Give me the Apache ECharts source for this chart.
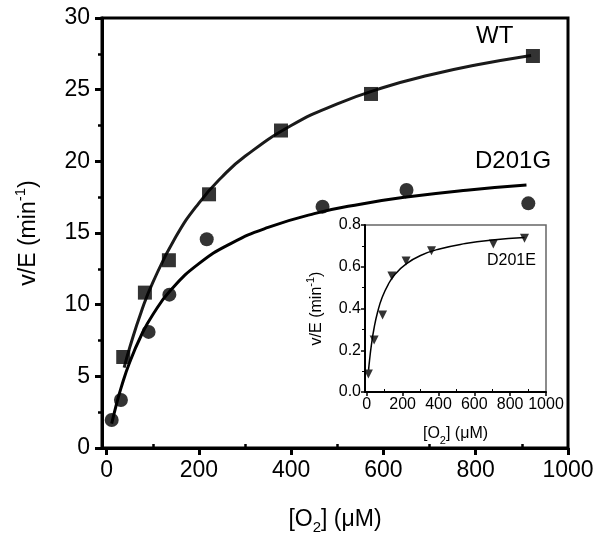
<!DOCTYPE html>
<html>
<head>
<meta charset="utf-8">
<script src="https://cdn.jsdelivr.net/npm/echarts@6/dist/echarts.min.js"></script>
<style>
html,body{margin:0;padding:0;background:#fff;}
#chart{width:604px;height:546px;}
</style>
</head>
<body>
<div id="chart"></div>
<script>
// ---- Data ----
const wtX = [36, 83, 135, 222, 378, 573, 924];
const wtY = [6.35, 10.84, 13.1, 17.7, 22.15, 24.7, 27.35];
const d201gX = [11, 31, 91, 136, 217, 468, 650, 914];
const d201gY = [1.95, 3.35, 8.1, 10.7, 14.56, 16.84, 18.0, 17.07];
// fitted curves, points
const wtFitX = [38, 50, 75, 100, 150, 200, 250, 300, 400, 500, 600, 700, 800, 920];
const wtFitY = [5.61, 7.0, 9.49, 11.54, 14.73, 17.09, 18.91, 20.35, 22.5, 24.01, 25.15, 26.02, 26.72, 27.39];
const d201gFitX = [11, 20, 31, 50, 75, 100, 140, 200, 270, 350, 450, 550, 650, 780, 910];
const d201gFitY = [1.70, 2.89, 4.16, 5.98, 7.85, 9.30, 11.05, 12.86, 14.28, 15.39, 16.35, 17.01, 17.51, 17.99, 18.35];
// inset D201E
const d201eX = [9, 41, 88, 140, 219, 361, 706, 880];
const d201eY = [0.086, 0.249, 0.369, 0.556, 0.628, 0.677, 0.709, 0.736];
const d201eFitX = [10, 15, 25, 40, 60, 85, 120, 160, 220, 300, 400, 550, 700, 880];
const d201eFitY = [0.106, 0.149, 0.221, 0.303, 0.382, 0.451, 0.516, 0.566, 0.614, 0.654, 0.684, 0.711, 0.728, 0.740];
// ticks
const xMajor = [0, 200, 400, 600, 800, 1000];
const xMinor = [100, 300, 500, 700, 900];

const pairs = (xs, ys) => xs.map((x, i) => [x, ys[i]]);
const FONT = 'Liberation Sans, Arial, sans-serif';

const titleRich = (size, subSize) => ({
  n: {fontSize: size, lineHeight: size + 8, fontFamily: FONT, color: '#000'},
  sub: {fontSize: subSize, lineHeight: subSize, verticalAlign: 'bottom', fontFamily: FONT, color: '#000'},
  sup: {fontSize: subSize, lineHeight: subSize, verticalAlign: 'top', fontFamily: FONT, color: '#000'}
});

const chart = echarts.init(document.getElementById('chart'), null, {renderer: 'canvas'});

const option = {
  backgroundColor: '#fff',
  animation: false,
  grid: [
    {left: 102, top: 18, right: 36, bottom: 98, show: true, borderColor: '#000', borderWidth: 3, backgroundColor: 'transparent'},
    {left: 365, top: 225, right: 58, bottom: 154, show: true, borderColor: '#666', borderWidth: 1.5, backgroundColor: '#fff', z: 5}
  ],
  xAxis: [
    {
      gridIndex: 0, type: 'value', min: -10, max: 1000,
      axisLine: {onZero: false, lineStyle: {color: '#000', width: 3}},
      axisTick: {inside: false, customValues: xMajor, length: 7, lineStyle: {width: 3, color: '#000'}},
      axisLabel: {customValues: xMajor, formatter: v => String(v), fontSize: 23, color: '#000', fontFamily: FONT, margin: 11},
      splitLine: {show: false},
      name: '{n|[O}{sub|2}{n|] (μM)}', nameLocation: 'middle', nameGap: 56,
      nameTextStyle: {rich: titleRich(23, 15)}
    },
    {
      gridIndex: 0, type: 'value', min: -10, max: 1000,
      axisLine: {show: false},
      axisTick: {inside: false, customValues: xMinor, length: 4, lineStyle: {width: 2.5, color: '#000'}},
      axisLabel: {show: false}, splitLine: {show: false}
    },
    {
      gridIndex: 1, type: 'value', min: -10, max: 1000, z: 6,
      axisLine: {onZero: false, lineStyle: {color: '#000', width: 2}},
      axisTick: {inside: false, customValues: xMajor, length: 4, lineStyle: {width: 1.5, color: '#000'}},
      axisLabel: {customValues: xMajor, formatter: v => String(v), fontSize: 16, color: '#000', fontFamily: FONT, margin: 5},
      splitLine: {show: false},
      name: '{n|[O}{sub|2}{n|] (μM)}', nameLocation: 'middle', nameGap: 30,
      nameTextStyle: {rich: titleRich(16, 11)}
    },
    {
      gridIndex: 1, type: 'value', min: -10, max: 1000, z: 6,
      axisLine: {show: false},
      axisTick: {inside: false, customValues: xMinor, length: 3, lineStyle: {width: 1, color: '#000'}},
      axisLabel: {show: false}, splitLine: {show: false}
    }
  ],
  yAxis: [
    {
      gridIndex: 0, type: 'value', min: 0, max: 30, interval: 5,
      axisLine: {show: true, onZero: false, lineStyle: {color: '#000', width: 3}},
      axisTick: {show: true, inside: false, length: 7, lineStyle: {width: 3, color: '#000'}},
      minorTick: {show: true, splitNumber: 2, length: 4, lineStyle: {width: 2.5, color: '#000'}},
      axisLabel: {fontSize: 23, color: '#000', fontFamily: FONT, margin: 12},
      splitLine: {show: false},
      name: '{n|v/E (min}{sup|-1}{n|)}', nameLocation: 'middle', nameRotate: 90, nameGap: 58,
      nameTextStyle: {rich: titleRich(23, 15)}
    },
    {
      gridIndex: 1, type: 'value', min: 0, max: 0.8, interval: 0.2, z: 6,
      axisLine: {show: true, onZero: false, lineStyle: {color: '#000', width: 2}},
      axisTick: {show: true, inside: false, length: 4, lineStyle: {width: 1.5, color: '#000'}},
      minorTick: {show: true, splitNumber: 2, length: 3, lineStyle: {width: 1, color: '#000'}},
      axisLabel: {fontSize: 16, color: '#000', fontFamily: FONT, margin: 4, formatter: v => v.toFixed(1)},
      splitLine: {show: false},
      name: '{n|v/E (min}{sup|-1}{n|)}', nameLocation: 'middle', nameRotate: 90, nameGap: 36,
      nameTextStyle: {rich: titleRich(16, 11)}
    }
  ],
  series: [
    {type: 'line', xAxisIndex: 0, yAxisIndex: 0, data: pairs(wtFitX, wtFitY), smooth: true, showSymbol: false,
     lineStyle: {color: '#1a1a1a', width: 3}, z: 2},
    {type: 'line', xAxisIndex: 0, yAxisIndex: 0, data: pairs(d201gFitX, d201gFitY), smooth: true, showSymbol: false,
     lineStyle: {color: '#000', width: 3}, z: 2},
    {type: 'scatter', xAxisIndex: 0, yAxisIndex: 0, data: pairs(wtX, wtY), symbol: 'rect', symbolSize: 14,
     itemStyle: {color: '#000'}, z: 3},
    {type: 'scatter', xAxisIndex: 0, yAxisIndex: 0, data: pairs(d201gX, d201gY), symbol: 'circle', symbolSize: 14,
     itemStyle: {color: '#000'}, z: 3},
    {type: 'line', xAxisIndex: 2, yAxisIndex: 1, data: pairs(d201eFitX, d201eFitY), smooth: true, showSymbol: false,
     lineStyle: {color: '#000', width: 1.5}, z: 7},
    {type: 'scatter', xAxisIndex: 2, yAxisIndex: 1, data: pairs(d201eX, d201eY), symbol: 'triangle', symbolRotate: 180,
     symbolSize: 9, itemStyle: {color: '#000'}, z: 8}
  ],
  graphic: [
    {type: 'text', left: 476, top: 24, z: 10, style: {text: 'WT', fontSize: 24, fontFamily: FONT, fill: '#000'}},
    {type: 'text', left: 475, top: 149, z: 10, style: {text: 'D201G', fontSize: 24, fontFamily: FONT, fill: '#000'}},
    {type: 'text', left: 487, top: 253, z: 10, style: {text: 'D201E', fontSize: 16, fontFamily: FONT, fill: '#000'}}
  ]
};
chart.setOption(option);
</script>
</body>
</html>
